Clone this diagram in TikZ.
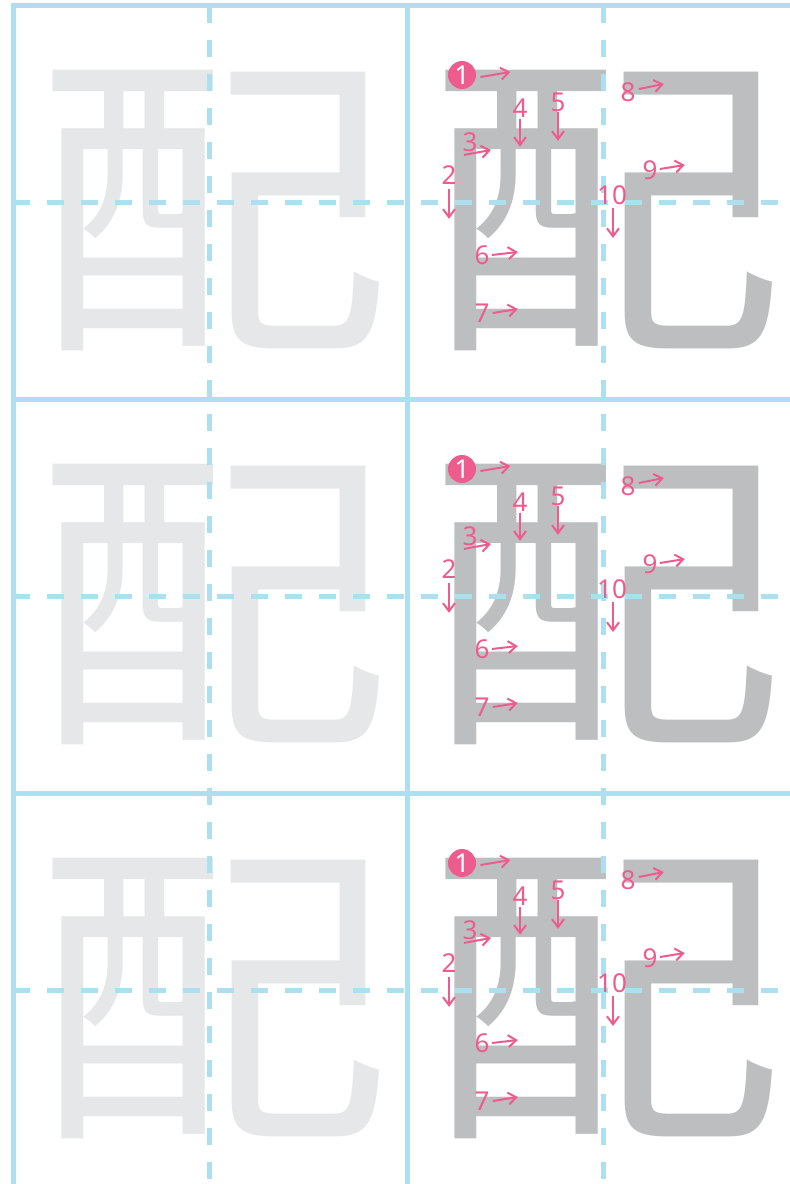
\documentclass[tikz,border=0pt]{standalone}
\usepackage{fontspec}
\newfontfamily\cjk{Noto Sans CJK SC}
\newfontfamily\numfont{Noto Sans}
\usetikzlibrary{arrows.meta}
\definecolor{gridblue}{HTML}{ADDFEE}
\definecolor{ghostgray}{HTML}{E6E7E8}
\definecolor{modelgray}{HTML}{BCBEC0}
\definecolor{hintpink}{HTML}{EE5C8E}

\begin{document}
\begin{tikzpicture}[x=0.5pt, y=-0.5pt,
    hanzi/.style={inner sep=0pt, font=\cjk\fontsize{160}{160}\selectfont, xscale=1.12},
    ghost/.style={hanzi, text=ghostgray},
    model/.style={hanzi, text=modelgray},
    frame/.style={gridblue, line width=2.5pt},
    midline/.style={gridblue, line width=2.5pt, dash pattern=on 8.5pt off 8.5pt},
    num/.style={inner sep=0pt, text=hintpink, font=\numfont\fontsize{13}{13}\selectfont},
    first/.style={circle, fill=hintpink, inner sep=0pt, minimum size=14pt, text=white,
                  font=\numfont\fontsize{13}{13}\selectfont},
    arr/.style={hintpink, line width=1pt, -{Straight Barb[length=4pt,width=6pt]}},
]
\useasboundingbox[fill=white] (0,0) rectangle (790,1184);

% characters
\foreach \r in {0,1,2} {
  \begin{scope}[shift={(0,\r*394)}]
    \node[ghost] (g\r) at (212,210) {配};
    \node[model] (m\r) at (605,210) {配};
  \end{scope}
}

% grid
\foreach \x in {13,407} \draw[frame] (\x,3) -- (\x,1184);
\foreach \y in {5.5,399.5,793.5} \draw[frame] (10.5,\y) -- (790,\y);
\foreach \x in {209,603} \draw[midline] (\x,5.5) -- (\x,1184);
\foreach \y in {202.5,596.5,990.5} \draw[midline] (13,\y) -- (790,\y);

% stroke order
\foreach \r in {0,1,2} {
  \begin{scope}[shift={(0,\r*394)}]
    \node[first] (s1-\r) at (462,75) {1};
    \node[num] (s2-\r) at (449,175) {2};
    \node[num] (s3-\r) at (470,142) {3};
    \node[num] (s4-\r) at (520,108) {4};
    \node[num] (s5-\r) at (558,102) {5};
    \node[num] (s6-\r) at (482,255) {6};
    \node[num] (s7-\r) at (482,313) {7};
    \node[num] (s8-\r) at (628,92) {8};
    \node[num] (s9-\r) at (650,170) {9};
    \node[num] (s10-\r) at (612,195) {10};
    \draw[arr] (s1-\r.east) ++(4,2) -- ++(30,-5);
    \draw[arr] (s2-\r.south) ++(0,4) -- ++(0,30);
    \draw[arr] (s3-\r.south) ++(-6,3) -- ++(27,-5);
    \draw[arr] (s4-\r.south) ++(0,1) -- ++(0,28);
    \draw[arr] (s5-\r.south) -- ++(0,29);
    \draw[arr] (s6-\r.east) ++(2,0) -- ++(26,-3);
    \draw[arr] (s7-\r.east) ++(3,0) -- ++(25,-4);
    \draw[arr] (s8-\r.east) ++(3,-3) -- ++(25,-5);
    \draw[arr] (s9-\r.east) ++(2,-1) -- ++(25,-4);
    \draw[arr] (s10-\r.south) ++(1,3) -- ++(0,30);
  \end{scope}
}
\end{tikzpicture}
\end{document}
